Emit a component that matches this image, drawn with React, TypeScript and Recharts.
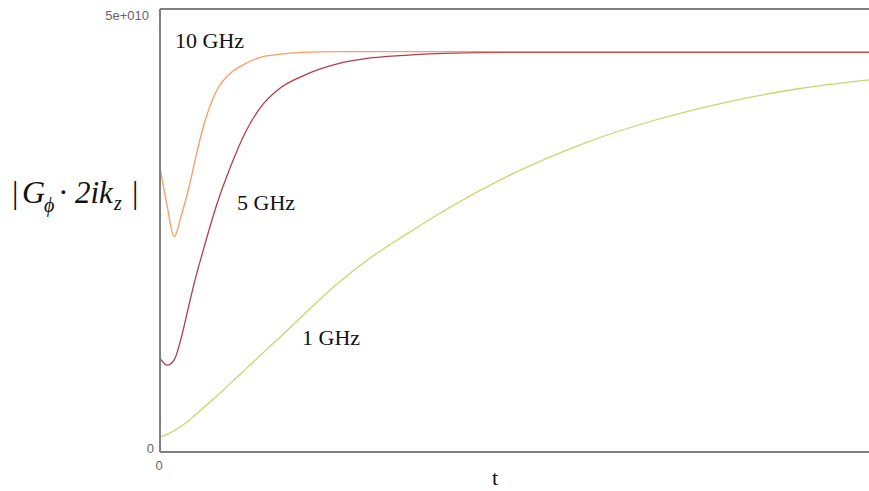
import { LineChart, Line, XAxis, YAxis, ReferenceLine } from "recharts";

// t grid (0..100 spans the full plot width)
const tValues = [0, 1, 2, 3, 4, 5, 6, 8, 10, 12, 14, 17, 20, 25, 30, 35, 40, 50, 60, 70, 80, 90, 100];

// |G·2ik| in units of 1e9
const ghz10 = [32.1, 27.8, 24.3, 26.7, 29.6, 33.1, 36.4, 40.8, 42.8, 43.8, 44.5, 44.9, 45.1, 45.2, 45.2, 45.2, 45.2, 45.2, 45.2, 45.2, 45.2, 45.2, 45.2];
const ghz5 = [10.6, 9.8, 10.4, 12.9, 16.3, 19.6, 22.5, 27.9, 32.3, 36.0, 38.7, 41.1, 42.4, 43.8, 44.5, 44.8, 45.0, 45.1, 45.1, 45.1, 45.1, 45.1, 45.1];
const ghz1 = [1.7, 2.0, 2.4, 2.9, 3.5, 4.2, 4.9, 6.3, 7.8, 9.3, 10.8, 13.0, 15.3, 19.0, 22.1, 24.7, 27.2, 31.5, 34.9, 37.5, 39.5, 41.0, 42.0];

const yTicks = [0, 50];
const yTickLabels: Record<number, string> = { 0: "0", 50: "5e+010" };
const xTicks = [0];

const data = tValues.map((t, i) => ({
  t,
  g10: ghz10[i],
  g5: ghz5[i],
  g1: ghz1[i],
}));

const axisGray = "#808080";

const YTick = (props: any) => {
  const { y, payload } = props;
  const top = payload.value === 50;
  return (
    <text
      x={top ? 149 : 154}
      y={y + (top ? 6 : -4)}
      textAnchor="end"
      dominantBaseline="central"
      fontFamily="Liberation Sans, Arial, sans-serif"
      fontSize={13}
      fill="#666"
    >
      {yTickLabels[payload.value]}
    </text>
  );
};

const XTick = (props: any) => {
  const { x, payload } = props;
  return (
    <text
      x={x - 1}
      y={465}
      textAnchor="middle"
      dominantBaseline="central"
      fontFamily="Liberation Sans, Arial, sans-serif"
      fontSize={13}
      fill="#666"
    >
      {payload.value}
    </text>
  );
};

export default function App() {
  const serif = "Liberation Serif, Times New Roman, serif";
  return (
    <div style={{ position: "absolute", left: 0, top: 0, width: 869, height: 491, background: "#fff" }}>
      <LineChart
        width={869}
        height={491}
        data={data}
        margin={{ top: 9, right: 0, left: 0, bottom: 0 }}
      >
        <XAxis
          dataKey="t"
          type="number"
          domain={[0, 100]}
          ticks={xTicks}
          tick={<XTick />}
          tickLine={false}
          axisLine={{ stroke: axisGray, strokeWidth: 2 }}
          height={39}
        />
        <YAxis
          type="number"
          domain={[0, 50]}
          ticks={yTicks}
          tick={<YTick />}
          tickLine={false}
          axisLine={{ stroke: axisGray, strokeWidth: 2 }}
          width={160}
          allowDataOverflow
        />
        <ReferenceLine y={50} stroke={axisGray} strokeWidth={2} ifOverflow="visible" />
        <Line type="monotone" dataKey="g1" stroke="#c6d86a" strokeWidth={1.3} dot={false} isAnimationActive={false} />
        <Line type="monotone" dataKey="g5" stroke="#b43c4e" strokeWidth={1.3} dot={false} isAnimationActive={false} />
        <Line type="monotone" dataKey="g10" stroke="#ff9a60" strokeWidth={1.3} dot={false} isAnimationActive={false} />
      </LineChart>
      <svg
        width={869}
        height={491}
        style={{ position: "absolute", left: 0, top: 0, pointerEvents: "none" }}
      >
        <g fontFamily={serif} fontSize={22} fill="#111">
          <text x={175} y={48}>10 GHz</text>
          <text x={237} y={210}>5 GHz</text>
          <text x={302} y={345}>1 GHz</text>
        </g>
        <text x={495} y={485} fontFamily={serif} fontSize={22} textAnchor="middle" fill="#111">t</text>
        <g fontFamily={serif} fill="#111">
          <text x={12} y={203} fontSize={32}>|</text>
          <text x={22} y={203} fontSize={32} fontStyle="italic">G</text>
          <text x={44} y={212} fontSize={20} fontStyle="italic">ϕ</text>
          <text x={58} y={203} fontSize={32}>·</text>
          <text x={75} y={203} fontSize={31} fontStyle="italic">2ik</text>
          <text x={114} y={210} fontSize={20} fontStyle="italic">z</text>
          <text x={132} y={203} fontSize={32}>|</text>
        </g>
      </svg>
    </div>
  );
}
